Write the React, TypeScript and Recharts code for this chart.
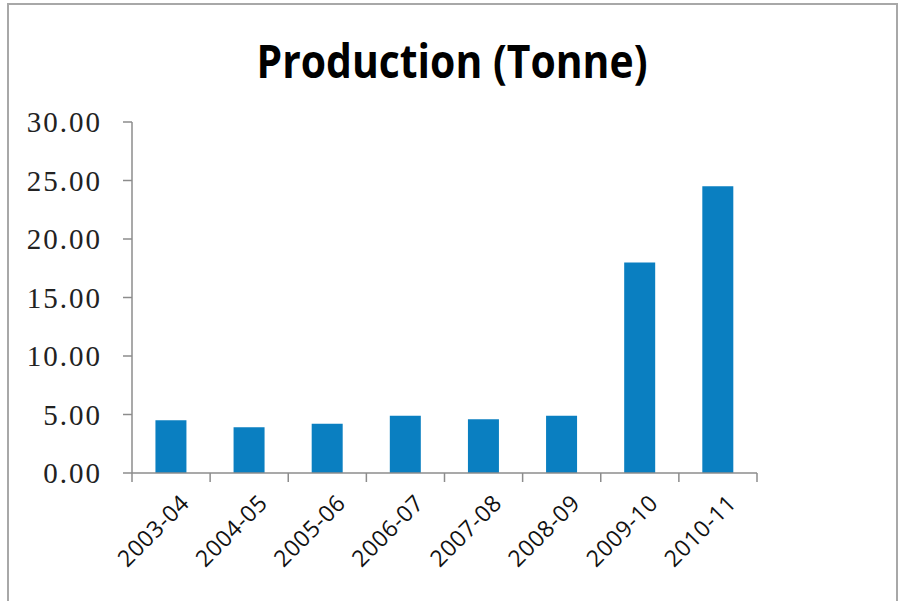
import React from 'react';
import { BarChart, Bar, XAxis, YAxis } from 'recharts';

const years = ['2003-04', '2004-05', '2005-06', '2006-07', '2007-08', '2008-09', '2009-10', '2010-11'];
const production = [4.5, 3.9, 4.2, 4.9, 4.6, 4.9, 18.0, 24.5];
const yTicks = [0, 5, 10, 15, 20, 25, 30];
const boundaryTicks = [0, 1, 2, 3, 4, 5, 6, 7, 8];

const data = years.map((y, i) => ({ year: y, value: production[i], idx: i + 0.5 }));

const AXIS = '#8c8c8c';
const BAR = '#0a7fc1';

const XTick = (props: any) => {
  const { x, y, payload } = props;
  const px = x + 14;
  const py = y + 17;
  return (
    <text
      x={px}
      y={py}
      dy="0.35em"
      textAnchor="end"
      transform={`rotate(-45, ${px}, ${py})`}
      fontFamily="'Open Sans', sans-serif"
      fontSize={23}
      letterSpacing={0.5}
      fill="#111"
    >
      {payload.value}
    </text>
  );
};

const EmptyTick = () => <g />;

export default function App() {
  return (
    <div style={{ position: 'absolute', left: 0, top: 0, width: 900, height: 601, background: '#fff' }}>
      <div
        style={{
          position: 'absolute',
          left: 7,
          top: 3,
          width: 887,
          height: 600,
          border: '2px solid #a8a8a8',
          boxSizing: 'content-box',
        }}
      />
      <svg width={900} height={120} style={{ position: 'absolute', left: 0, top: 0 }}>
        <text
          x={452}
          y={78}
          textAnchor="middle"
          fontFamily="'Open Sans', sans-serif"
          fontWeight="bold"
          fontSize={46}
          textLength={391}
          lengthAdjust="spacingAndGlyphs"
          fill="#000"
        >
          Production (Tonne)
        </text>
      </svg>
      <div style={{ position: 'absolute', left: 0, top: 0 }}>
        <BarChart
          width={900}
          height={601}
          data={data}
          margin={{ top: 122, right: 143, bottom: 67, left: 0 }}
          barCategoryGap="30%"
        >
          <XAxis
            xAxisId="a"
            type="number"
            dataKey="idx"
            domain={[0, 8]}
            ticks={boundaryTicks}
            interval={0}
            tick={<EmptyTick />}
            tickSize={9}
            height={1}
            axisLine={{ stroke: AXIS, strokeWidth: 1.5 }}
            tickLine={{ stroke: AXIS, strokeWidth: 1.5 }}
          />
          <XAxis
            xAxisId="b"
            dataKey="year"
            axisLine={false}
            tickLine={false}
            height={60}
            interval={0}
            tick={<XTick />}
          />
          <YAxis
            width={132}
            domain={[0, 30]}
            ticks={yTicks}
            interval={0}
            tickFormatter={(v: number) => v.toFixed(2)}
            tickSize={9}
            tickMargin={21}
            axisLine={{ stroke: AXIS, strokeWidth: 1.5 }}
            tickLine={{ stroke: AXIS, strokeWidth: 1.5 }}
            tick={{ fill: '#222', fontFamily: "'Liberation Serif', 'Times New Roman', serif", fontSize: 29, letterSpacing: 2 }}
          />
          <Bar xAxisId="b" dataKey="value" fill={BAR} isAnimationActive={false} />
        </BarChart>
      </div>
    </div>
  );
}
